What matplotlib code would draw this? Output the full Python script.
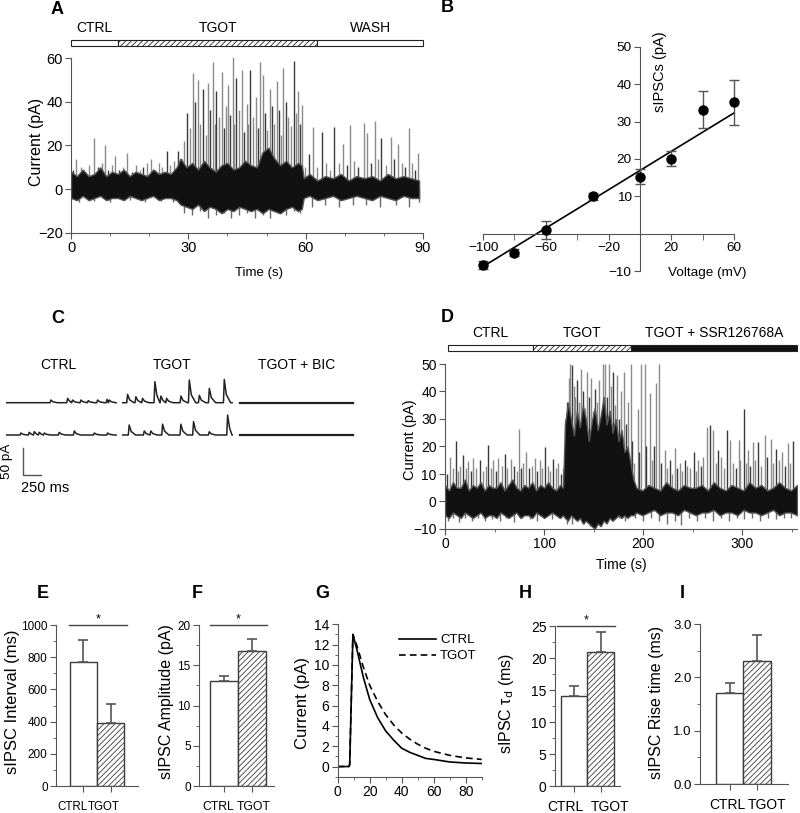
import matplotlib
matplotlib.use('Agg')
import matplotlib.pyplot as plt
from matplotlib.patches import Rectangle
from matplotlib.ticker import MultipleLocator, FormatStrFormatter

# ---------------- data ----------------
# A: 90 s recording, spikes (peak values) + dense noise band
a_spike_t = [0.5, 1.4, 2.5, 3.5, 4.6, 5.9, 7.0, 8.0, 8.6, 9.5, 10.5, 11.2, 12.3, 13.2, 14.4,
             15.5, 16.5, 17.6, 18.5, 19.5, 20.5, 21.5, 22.5, 23.3, 24.5, 25.4, 26.4, 27.4,
             28.3, 29.0, 29.7, 30.4, 31.2, 31.8, 32.5, 33.1, 33.8, 34.4, 35.1, 35.6, 36.2,
             36.7, 37.2, 37.8, 38.5, 39.1, 39.6, 40.1, 40.7, 41.3, 41.8, 42.3, 42.9, 43.6,
             44.2, 44.9, 45.3, 45.8, 46.5, 47.2, 47.7, 48.3, 49.1, 49.6, 50.2, 50.9, 51.5,
             52.0, 52.6, 53.2, 53.7, 54.3, 55.0, 55.6, 56.3, 56.9, 57.5, 58.1, 58.6, 59.1,
             59.8, 60.8, 62.0, 63.0, 64.1, 65.1, 66.2, 67.3, 68.4, 69.6, 70.5, 71.4, 72.4,
             73.5, 74.8, 75.6, 76.6, 77.6, 78.5, 79.3, 80.5, 81.8, 82.7, 83.7, 84.6, 85.4,
             86.3, 87.2, 88.0, 88.8]
a_spike_v = [9, 14, 10, 8, 11, 23.5, 10, 12, 20, 9, 11, 15, 9, 10, 16.5,
             8, 11, 9, 10, 12, 14, 9, 12, 10, 17.7, 11, 13, 17.4,
             14, 22, 35, 28, 53, 40, 50, 30, 46, 25, 48.6, 36, 58,
             30, 45, 33, 53.4, 28, 38, 47.7, 34, 62, 30, 51, 36, 54.6,
             26, 39, 30, 54.6, 33, 42, 28, 58, 52, 35, 27, 46, 38,
             30, 49.4, 36, 25, 55.5, 40, 33, 29, 58.6, 35, 45, 30, 38.5,
             10, 16, 28.3, 10, 26.2, 12, 9, 28.3, 12, 20.5, 11, 29.4, 13,
             10, 30.2, 25.9, 12, 31, 14, 23.6, 11, 23.9, 14, 20.9, 12, 10,
             27.8, 12, 9, 16.6]
a_low_t = [2, 6, 10, 15, 19, 23, 26, 29, 31, 33, 35, 37, 39, 41, 43, 45, 47, 49, 51, 53,
           55, 57, 58.5, 61.5, 65, 68.5, 72, 75.5, 79, 83, 86.5, 89]
a_low_v = [-6, -5.5, -6, -5, -6, -5.5, -6, -11, -12, -10, -13, -12, -11, -13, -12, -11,
           -13, -12, -13, -11, -12, -10, -11, -8, -7, -8, -7, -7, -8, -7, -8, -6]
a_env_t = [0, 1.5, 3, 4.5, 6, 7.5, 9, 10.5, 12, 13.5, 15, 16.5, 18, 19.5, 21, 22.5, 24, 25.5, 27,
           28, 29.5, 31, 32.5, 34, 35.5, 37, 38.5, 40, 41.5, 43, 44.5, 46, 47.5, 49, 50.5, 52,
           53.5, 55, 56.5, 58, 59,
           59.5, 61, 63, 65, 67, 69, 71, 73, 75, 77, 79, 81, 83, 85, 87, 89]
a_env_hi = [8, 6, 9, 6, 7, 10, 6, 8, 7, 9, 6, 8, 7, 6, 9, 7, 8, 7, 10,
            14, 10, 12, 9, 13, 10, 8, 11, 12, 9, 10, 13, 11, 10, 17, 19, 14,
            11, 13, 10, 12, 11,
            5, 7, 4, 6, 5, 7, 4, 6, 5, 6, 4, 7, 5, 6, 5, 4]
a_env_lo = [-4, -5, -3, -5, -4, -3, -5, -4, -4, -5, -3, -4, -5, -4, -3, -5, -4, -4, -5,
            -7, -8, -9, -7, -10, -8, -9, -11, -9, -10, -8, -9, -10, -9, -11, -9, -10,
            -11, -9, -8, -10, -9,
            -4, -3, -5, -4, -3, -5, -4, -3, -4, -5, -3, -4, -5, -3, -4, -4]
a_periods = ['CTRL', 'TGOT', 'WASH']
a_edges = [0, 12, 63, 90]

# B: I-V relation
b_voltage = [-100, -80, -60, -30, 0, 20, 40, 60]
b_current = [-8.4, -5.1, 1.0, 10.0, 15.3, 20.1, 33.2, 35.2]
b_err = [1.0, 1.0, 2.5, 1.0, 2.0, 2.0, 5.0, 6.0]
b_fit_slope, b_fit_icpt = 0.257, 16.9

# C: example sweeps (event times in ms, amplitudes in pA)
c_ctrl1_t = [602, 834, 903, 1019, 1121, 1251, 1381, 1413]
c_ctrl1_a = [5, 8, 5, 5, 3.7, 5, 6.2, 5]
c_ctrl2_t = [185, 301, 371, 440, 510, 718, 927, 1205, 1390]
c_ctrl2_a = [3.7, 4.9, 6.2, 4.9, 3.7, 4.9, 7.4, 3.7, 3.7]
c_tgot1_t = [56, 171, 264, 435, 519, 598, 797, 913, 1052, 1191, 1399]
c_tgot1_a = [15.4, 11, 8, 38.9, 12.3, 8, 12.3, 42, 13.6, 26.5, 43]
c_tgot2_t = [78, 287, 379, 542, 796, 972, 1190, 1445]
c_tgot2_a = [18.5, 7.4, 7.4, 20, 20, 24.7, 6, 37]
c_conditions = ['CTRL', 'TGOT', 'TGOT + BIC']

# D: 350 s recording
d_spike_t = [2, 5, 8, 10.8, 13, 15.5, 18.4, 21, 23.4, 26, 28.4, 31, 35, 38, 41, 43.6, 46, 48.6,
             51, 53.6, 57, 60.4, 63, 67, 70, 72.5, 74.8, 77, 79, 82, 85, 88, 90.6, 93, 95.6,
             98, 100.6, 104, 106, 109, 112, 114, 117, 119,
             121, 123.3, 125, 126.5, 128.5, 130, 131.5, 133.5, 135, 137, 139, 141, 143, 145,
             147, 149, 151, 153, 155, 157, 159, 161, 163, 165.5, 167, 169, 171, 173, 175, 177,
             180.7, 183, 185, 187.4, 189, 191, 194.8, 196, 198, 201.5, 203, 206.5, 209, 211,
             213.2, 215.5, 218, 221.6,
             224, 227, 229, 231.6, 234, 237, 239, 241.7, 244, 247, 250.7, 253, 255, 258, 260,
             263.9, 267.3, 270.6, 273, 275, 278, 281, 284.1, 287, 290, 293, 296.2, 298, 301.9,
             304, 306, 308, 310.3, 313, 316, 319, 322.4, 325, 328.4, 331, 334, 337, 340, 343,
             345.6, 348, 350.5]
d_spike_v = [10, 16.2, 12, 21.9, 11, 13, 16.8, 12, 14.6, 11, 15.8, 12, 15, 11, 13, 20.7, 12, 15,
             11, 15.9, 13, 17.4, 12, 15.6, 13, 11, 26.3, 12, 14, 18, 12, 13, 15.8, 11, 15,
             12, 19.8, 13, 11, 15.6, 12, 14, 10, 12,
             30, 36.2, 45, 50, 49.6, 42, 38, 44, 36, 48, 40, 34, 47, 38,
             45, 33, 41, 36, 44, 30, 50, 50, 38, 50, 42, 47, 35, 46, 30, 40,
             47, 28, 36, 50, 22, 14, 33.8, 18, 50, 50, 20, 39.3, 15, 20,
             43, 50, 14, 18.6,
             12, 15, 10, 19.6, 12, 14, 11, 15, 13, 12, 18, 11, 15, 13, 16,
             27.1, 27.7, 25.9, 14, 18.6, 16, 12, 25.9, 22.3, 14, 12, 22.3, 15, 33.8,
             14, 18.6, 13, 21.7, 15, 21.5, 13, 24.1, 16, 22.9, 14, 19.2, 15, 18, 13,
             21.3, 14, 22]
d_low_t = [3, 8, 14, 20, 27, 33, 40, 47, 55, 62, 70, 78, 86, 93, 100, 108, 115,
           123, 128, 134, 140, 146, 150, 152, 156, 162, 168, 175, 182,
           192, 200, 208, 216, 224, 232, 238, 246, 254, 262, 270, 278, 286, 294, 302, 310,
           318, 326, 334, 342, 349]
d_low_v = [-7, -6, -7.5, -6, -7, -6, -7, -6.5, -7, -6, -7.5, -6, -6.5, -7, -6, -6.5, -6,
           -8, -8, -7, -8, -9, -10, -9, -8, -7, -7, -6, -7,
           -6, -7, -6, -7, -8, -7, -8.5, -6, -7, -6, -7, -6, -7, -6, -6.5, -6,
           -7, -6, -6.5, -6, -6]
d_env_t = [0, 4, 8, 12, 16, 20, 24, 28, 32, 36, 40, 44, 48, 52, 56, 60, 64, 68, 72, 76, 80,
           84, 88, 92, 96, 100, 104, 108, 112, 116, 119,
           121, 124, 127, 130, 133, 136, 139, 142, 145, 148, 151, 154, 157, 160, 163, 166,
           169, 172, 175, 178, 181, 184, 187, 190,
           193, 199, 205, 211, 217, 223, 229, 235, 241, 247, 253, 259, 265, 271, 277, 283,
           289, 295, 301, 307, 313, 319, 325, 331, 337, 343, 349, 355]
d_env_hi = [6, 4, 7, 5, 5, 8, 4, 6, 5, 7, 4, 6, 5, 5, 7, 4, 6, 8, 5, 4, 6,
            5, 7, 4, 6, 5, 7, 5, 4, 6, 5,
            28, 36, 30, 24, 33, 27, 35, 30, 22, 29, 34, 26, 31, 38, 28, 33,
            25, 30, 22, 26, 18, 20, 14, 8,
            5, 4, 6, 5, 4, 7, 5, 4, 6, 5, 5, 6, 4, 7, 5, 4,
            6, 5, 4, 7, 5, 6, 4, 5, 7, 5, 4, 6]
d_env_lo = [-5, -6, -4, -5, -6, -4, -5, -6, -5, -4, -6, -5, -5, -6, -4, -5, -6, -5, -4, -6, -5,
            -5, -6, -4, -5, -6, -5, -4, -5, -6, -5,
            -6, -7, -5, -6, -7, -6, -8, -7, -8, -9, -10, -8, -9, -7, -8, -6,
            -7, -6, -5, -6, -5, -6, -5, -5,
            -4, -5, -4, -3, -5, -4, -4, -5, -3, -4, -5, -4, -4, -3, -5, -4,
            -4, -5, -3, -4, -4, -5, -4, -3, -5, -4, -4, -5]
d_periods = ['CTRL', 'TGOT', 'TGOT + SSR126768A']
d_edges = [3, 89, 188, 355]

# E, F, H, I: bar summaries (CTRL, TGOT)
groups = ['CTRL', 'TGOT']
e_mean, e_sem = [770, 390], [137, 120]
f_mean, f_sem = [13.0, 16.8], [0.7, 1.5]
h_mean, h_sem = [14.0, 20.9], [1.7, 3.1]
i_mean, i_sem = [1.7, 2.3], [0.2, 0.5]

# G: averaged sIPSC
g_t = [0, 7, 7.5, 9.5, 12, 16, 20, 25, 30, 35, 40, 45, 50, 55, 60, 70, 80, 90]
g_ctrl = [0, 0, 0.2, 13, 11.5, 8.8, 6.6, 4.8, 3.5, 2.6, 1.8, 1.4, 1.1, 0.8, 0.7, 0.45, 0.35, 0.3]
g_tgot = [0, 0, 0.2, 13, 11.9, 9.8, 8.0, 6.4, 5.1, 4.1, 3.3, 2.7, 2.2, 1.8, 1.5, 1.1, 0.85, 0.7]

# ---------------- figure ----------------
plt.rcParams['font.family'] = ['Liberation Sans', 'DejaVu Sans']
plt.rcParams['hatch.linewidth'] = 0.6
plt.rcParams['hatch.color'] = '#555555'
W, H = 800, 813
fig = plt.figure(figsize=(W / 100, H / 100), dpi=100)
SP = '#555555'


def rect(l, t, r, b):
    return [l / W, 1 - b / H, (r - l) / W, (b - t) / H]


def style(ax, size):
    for s in ['top', 'right']:
        ax.spines[s].set_visible(False)
    for s in ['left', 'bottom']:
        ax.spines[s].set_color(SP)
    ax.tick_params(which='both', direction='out', color=SP, labelsize=size, pad=2)
    ax.tick_params(which='major', length=4)
    ax.tick_params(which='minor', length=2.5)


def ftext(x, y, s, **kw):
    fig.text(x / W, 1 - y / H, s, ha='center', va='center', **kw)


def draw_trace(ax, env_t, hi, lo, st, sv, lt, lv):
    cols = ['#3a3a3a' if i % 3 == 0 else '#8a8a8a' for i in range(len(st))]
    ax.vlines(st, 0, sv, colors=cols, lw=1.0, zorder=2)
    ax.vlines(lt, lv, 0, colors='#6a6a6a', lw=1.0, zorder=2)
    ax.fill_between(env_t, lo, hi, facecolor='#111111', edgecolor='#555555', lw=1.0, zorder=3)


def period_bar(ax, edges, labels, fills, y0, h, ytxt):
    tr = ax.get_xaxis_transform()
    for i, lab in enumerate(labels):
        fc, hatch = fills[i]
        ax.add_patch(Rectangle((edges[i], y0), edges[i + 1] - edges[i], h, transform=tr,
                               facecolor=fc, hatch=hatch, edgecolor='#222222', lw=0.8,
                               clip_on=False))
        ax.text((edges[i] + edges[i + 1]) / 2, ytxt, lab, transform=tr, ha='center',
                va='center', fontsize=10)


# ---- A ----
axA = fig.add_axes(rect(71, 58, 423, 233))
draw_trace(axA, a_env_t, a_env_hi, a_env_lo, a_spike_t, a_spike_v, a_low_t, a_low_v)
axA.set_xlim(0, 90)
axA.set_ylim(-20, 60)
axA.set_xticks([0, 30, 60, 90])
axA.xaxis.set_minor_locator(MultipleLocator(10))
axA.set_yticks([-20, 0, 20, 40, 60])
style(axA, 10.5)
period_bar(axA, a_edges, a_periods, [('white', None), ('white', '//////'), ('white', None)],
           1.069, 0.034, 1.171)
ftext(37, 142, 'Current (pA)', rotation=90, fontsize=11.5)
ftext(259, 273, 'Time (s)', fontsize=9.5)

# ---- B ----
axB = fig.add_axes(rect(475.2, 47, 741.8, 271))
axB.set_xlim(-105, 65)
axB.set_ylim(-10, 50)
fx = [b_voltage[0], b_voltage[-1]]
axB.plot(fx, [b_fit_slope * v + b_fit_icpt for v in fx], color='black', lw=1.2, zorder=2)
axB.errorbar(b_voltage, b_current, yerr=b_err, fmt='none', ecolor='#555555', elinewidth=1,
             capsize=3.5, capthick=1, zorder=3)
axB.plot(b_voltage, b_current, 'o', color='black', ms=6.5, zorder=4, clip_on=False)
for s in ['top', 'right']:
    axB.spines[s].set_visible(False)
axB.spines['left'].set_position(('data', 0))
axB.spines['bottom'].set_position(('data', 0))
axB.spines['left'].set_bounds(-10, 50)
axB.spines['bottom'].set_bounds(-100, 60)
for s in ['left', 'bottom']:
    axB.spines[s].set_color(SP)
axB.set_xticks([-100, -60, -20, 20, 60])
axB.set_xticks([-80, -40, 0, 40], minor=True)
axB.set_yticks([-10, 10, 20, 30, 40, 50])
axB.tick_params(which='both', direction='out', color=SP, labelsize=9.7, pad=2)
axB.tick_params(which='major', length=4)
axB.tick_params(which='minor', length=4)
axB.text(13, 43.5, 'sIPSCs (pA)', rotation=90, ha='center', va='center', fontsize=10.5)
axB.text(43, -10.5, 'Voltage (mV)', ha='center', va='center', fontsize=9.7)

# ---- C ----
MS_PX, PA_PX = 250 / 18, 50 / 27
axC = fig.add_axes(rect(0, 340, 380, 500))
axC.set_xlim(0, 380 * MS_PX)
axC.set_ylim(0, 160 * PA_PX)
axC.axis('off')
SWEEP = 1520


def event_trace(times, amps):
    xs, ys = [0.0], [0.0]
    for i, (t, a) in enumerate(zip(times, amps)):
        nxt = times[i + 1] if i + 1 < len(times) else SWEEP
        xs += [t, t + 12, min(t + 40, nxt - 5), min(t + 100, nxt - 2)]
        ys += [0, a, a * 0.35, 0]
    xs.append(SWEEP)
    ys.append(0)
    return xs, ys


row_base = [(500 - 402.7) * PA_PX, (500 - 435) * PA_PX]
ctrl_x0, tgot_x0, bic_x0 = 6.7 * MS_PX, 122.7 * MS_PX, 240 * MS_PX
for base, (ct, ca), (tt, ta) in zip(row_base,
                                    [(c_ctrl1_t, c_ctrl1_a), (c_ctrl2_t, c_ctrl2_a)],
                                    [(c_tgot1_t, c_tgot1_a), (c_tgot2_t, c_tgot2_a)]):
    xs, ys = event_trace(ct, ca)
    axC.plot([ctrl_x0 + x for x in xs], [base + y for y in ys], color='#222222', lw=1.1)
    xs, ys = event_trace(tt, ta)
    axC.plot([tgot_x0 + x for x in xs], [base + y for y in ys], color='#222222', lw=1.1)
    axC.plot([bic_x0, bic_x0 + 1570], [base, base], color='#222222', lw=1.6)
for lab, px in zip(c_conditions, [58, 172, 297]):
    axC.text(px * MS_PX, (500 - 365) * PA_PX, lab, ha='center', va='center', fontsize=10)
sx, sy = 23 * MS_PX, (500 - 475) * PA_PX
axC.plot([sx, sx, sx + 250], [sy + 50, sy, sy], color='#555555', lw=1)
axC.text(45 * MS_PX, (500 - 488) * PA_PX, '250 ms', ha='center', va='center', fontsize=10.5)
axC.text(7 * MS_PX, (500 - 461) * PA_PX, '50 pA', rotation=90, ha='center', va='center',
         fontsize=9.7)

# ---- D ----
axD = fig.add_axes(rect(445, 364, 797, 529))
draw_trace(axD, d_env_t, d_env_hi, d_env_lo, d_spike_t, d_spike_v, d_low_t, d_low_v)
axD.set_xlim(0, 355)
axD.set_ylim(-10, 50)
axD.set_xticks([0, 100, 200, 300])
axD.xaxis.set_minor_locator(MultipleLocator(50))
axD.set_yticks(range(-10, 51, 10))
style(axD, 10)
period_bar(axD, d_edges, d_periods, [('white', None), ('white', '//////'), ('#111111', None)],
           1.079, 0.036, 1.188)
ftext(410, 440, 'Current (pA)', rotation=90, fontsize=10.5)
ftext(621, 565, 'Time (s)', fontsize=10)


# ---- bar panels ----
def bar_panel(r, xlim, ylim, mean, sem, major, minor, size, lab_x, lab_size, sig=None,
              fmt=None):
    ax = fig.add_axes(r)
    ax.bar([0, 1], mean, width=1, color='white', edgecolor='#3c3c3c', lw=1,
           hatch=[None, '//////'], zorder=2)
    ax.errorbar([0, 1], mean, yerr=[[0, 0], sem], fmt='none', ecolor='#555555',
                elinewidth=1.2, capsize=3.5, capthick=1.2, zorder=3)
    ax.set_xlim(*xlim)
    ax.set_ylim(*ylim)
    ax.yaxis.set_major_locator(MultipleLocator(major))
    ax.yaxis.set_minor_locator(MultipleLocator(minor))
    if fmt:
        ax.yaxis.set_major_formatter(FormatStrFormatter(fmt))
    ax.set_xticks([0, 1], ['', ''])
    style(ax, size)
    tr = ax.get_xaxis_transform()
    for g, x in zip(groups, lab_x):
        ax.text(x, -0.13, g, transform=tr, ha='center', va='center', fontsize=lab_size)
    if sig is not None:
        x0, x1 = sig
        ax.plot([x0, x1], [ylim[1], ylim[1]], color='#444444', lw=1, clip_on=False)
        ax.text((x0 + x1) / 2, ylim[1], '*', ha='center', va='bottom', fontsize=9)
    return ax


bar_panel(rect(56, 625, 138, 786), (-1, 2.0), (0, 1000), e_mean, e_sem, 200, 100, 8.5,
          (-0.39, 0.76), 8.3, sig=(-0.52, 1.61))
bar_panel(rect(199, 625, 274, 786), (-0.9, 1.8), (0, 20), f_mean, f_sem, 5, 2.5, 8.5,
          (-0.2, 1.06), 8.8, sig=(-0.5, 1.54))
bar_panel(rect(555, 626, 620, 786), (-0.72, 1.73), (0, 25), h_mean, h_sem, 5, 2.5, 10,
          (-0.32, 1.35), 10, sig=(-0.66, 1.54))
bar_panel(rect(700, 624, 788, 784), (-1.09, 2.13), (0, 3), i_mean, i_sem, 1, 0.5, 9.5,
          (-0.1, 1.38), 10, fmt='%.1f')

# ---- G ----
axG = fig.add_axes(rect(337.7, 624.3, 481.7, 776.7))
axG.plot(g_t, g_ctrl, color='black', lw=1.2, label='CTRL')
axG.plot(g_t, g_tgot, color='black', lw=1.2, ls=(0, (4, 2.5)), label='TGOT')
axG.set_xlim(0, 90)
axG.set_ylim(-1, 14)
axG.xaxis.set_major_locator(MultipleLocator(20))
axG.xaxis.set_minor_locator(MultipleLocator(10))
axG.yaxis.set_minor_locator(MultipleLocator(1))
axG.set_yticks(range(0, 15, 2))
style(axG, 10)
axG.legend(loc='upper left', bbox_to_anchor=(0.38, 0.98), frameon=False, fontsize=9.5,
           handlelength=2.8, handletextpad=0.3, borderpad=0, labelspacing=0.3)

# ---- axis labels for bottom row ----
ftext(13, 702, 'sIPSC Interval (ms)', rotation=90, fontsize=12)
ftext(167, 702, 'sIPSC Amplitude (pA)', rotation=90, fontsize=11.5)
ftext(302, 703, 'Current (pA)', rotation=90, fontsize=12)
ftext(507, 703, r'sIPSC τ$_{\mathrm{d}}$ (ms)', rotation=90, fontsize=11.5)
ftext(657, 702, 'sIPSC Rise time (ms)', rotation=90, fontsize=11.5)

# ---- panel letters ----
for lab, x, y in [('A', 57, 10), ('B', 447, 8), ('C', 58, 318), ('D', 447, 317),
                  ('E', 43, 593), ('F', 197, 593), ('G', 322, 593), ('H', 525, 593),
                  ('I', 682, 593)]:
    ftext(x, y, lab, fontsize=13, fontweight='bold')

fig.savefig('out.png', dpi=100)
